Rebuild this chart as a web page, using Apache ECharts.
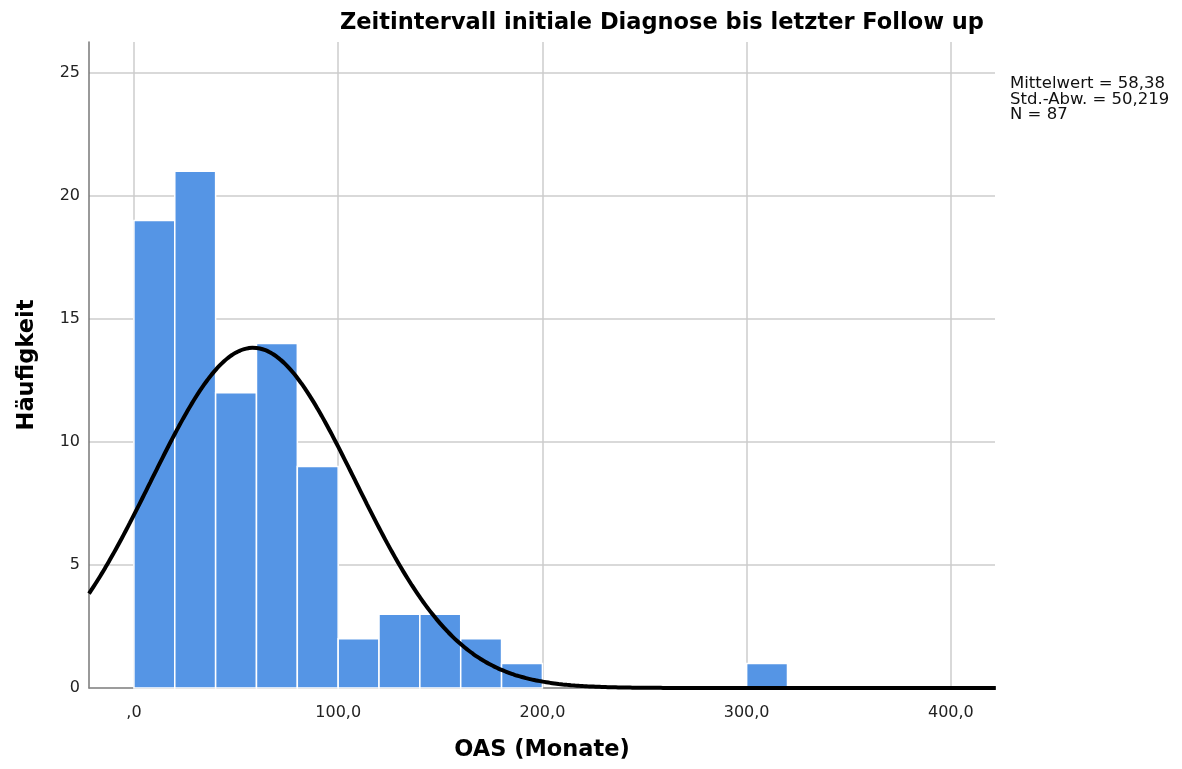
<!DOCTYPE html>
<html>
<head>
<meta charset="utf-8">
<script src="https://cdn.jsdelivr.net/npm/echarts@6/dist/echarts.min.js"></script>
<style>
html,body{margin:0;padding:0;background:#fff;}
#chart{width:1182px;height:769px;}
</style>
</head>
<body>
<div id="chart"></div>
<script>
// Histogramm: Klassenbeginn (Monate) und Häufigkeit, Klassenbreite 20
var binStart = [0, 20, 40, 60, 80, 100, 120, 140, 160, 180, 300];
var counts   = [19, 21, 12, 14, 9, 2, 3, 3, 2, 1, 1];
var binWidth = 20;
var xTicks = [0, 100, 200, 300, 400];
var yTicks = [0, 5, 10, 15, 20, 25];
// Kennwerte aus der Grafik
var mittelwert = 58.38;
var stdAbw = 50.219;
var nGesamt = 87;

var histData = [];
for (var i = 0; i < binStart.length; i++) {
    histData.push([binStart[i], binStart[i] + binWidth, counts[i]]);
}

// Normalverteilungskurve aus Mittelwert / Std.-Abw. / N
var curveData = [];
for (var x = -22; x <= 422; x += 2) {
    var z = (x - mittelwert) / stdAbw;
    var y = nGesamt * binWidth / (stdAbw * Math.sqrt(2 * Math.PI)) * Math.exp(-0.5 * z * z);
    curveData.push([x, y]);
}

function fmtX(v){
    var s = v.toFixed(1).replace('.', ',');
    if (s.indexOf('0,') === 0) s = s.substring(1);
    return s;
}

var chart = echarts.init(document.getElementById('chart'));
var font = '"DejaVu Sans", sans-serif';
var option = {
    animation: false,
    textStyle: {fontFamily: font},
    title: [{
        text: 'Zeitintervall initiale Diagnose bis letzter Follow up',
        left: 335, top: 7,
        textStyle: {fontSize: 22.5, fontWeight: 'bold', color: '#000', fontFamily: font}
    }, {
        text: 'Mittelwert = 58,38\nStd.-Abw. = 50,219\nN = 87',
        left: 1005, top: 71,
        textStyle: {fontSize: 16.5, fontWeight: 'normal', color: '#111', lineHeight: 15.5, fontFamily: font}
    }],
    grid: {left: 89, right: 187, top: 42, bottom: 81},
    xAxis: {
        type: 'value', min: -22, max: 421.6,
        name: 'OAS (Monate)', nameLocation: 'middle', nameGap: 51,
        nameTextStyle: {fontSize: 22.5, fontWeight: 'bold', color: '#000'},
        axisLine: {show: true, onZero: false, lineStyle: {color: '#888', width: 1.5}},
        axisTick: {show: false, customValues: xTicks},
        axisLabel: {customValues: xTicks, formatter: fmtX, color: '#222', fontSize: 16, margin: 17},
        splitLine: {show: true, lineStyle: {color: '#cccccc', width: 1.5}}
    },
    yAxis: {
        type: 'value', min: 0, max: 26.25, interval: 5,
        name: 'Häufigkeit', nameLocation: 'middle', nameGap: 50,
        nameTextStyle: {fontSize: 22.5, fontWeight: 'bold', color: '#000'},
        axisLine: {show: true, onZero: false, lineStyle: {color: '#777', width: 1.5}},
        axisTick: {show: false, customValues: yTicks},
        axisLabel: {customValues: yTicks, color: '#222', fontSize: 16, margin: 9},
        splitLine: {show: true, lineStyle: {color: '#cccccc', width: 1.5}}
    },
    series: [{
        type: 'custom',
        data: histData,
        encode: {x: [0, 1], y: 2},
        renderItem: function (params, api) {
            var p0 = api.coord([api.value(0), api.value(2)]);
            var p1 = api.coord([api.value(1), 0]);
            return {
                type: 'rect',
                shape: {x: p0[0], y: p0[1], width: p1[0] - p0[0], height: p1[1] - p0[1]},
                style: {fill: '#5595e5', stroke: '#ffffff', lineWidth: 1.5}
            };
        }
    }, {
        type: 'line',
        data: curveData,
        showSymbol: false,
        smooth: true,
        clip: true,
        lineStyle: {color: '#000', width: 4}
    }]
};
chart.setOption(option);
window.addEventListener('resize', function () {
    chart.resize();
});
</script>
</body>
</html>
